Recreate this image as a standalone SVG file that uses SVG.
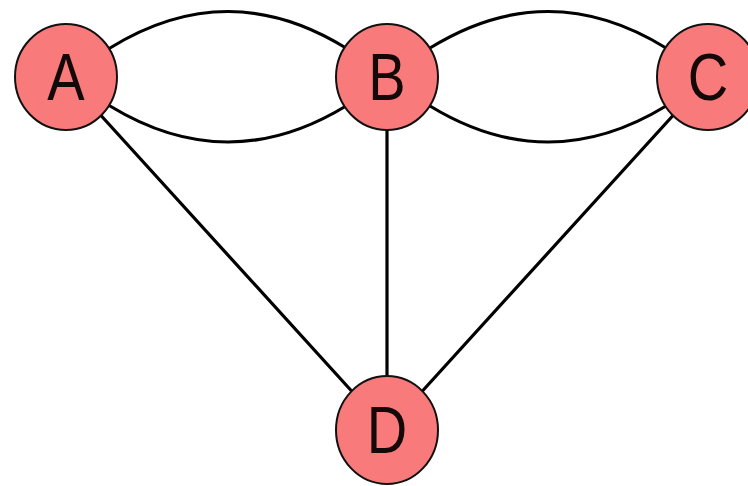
<svg xmlns="http://www.w3.org/2000/svg" width="748" height="486" viewBox="0 0 748 486">
<style>
.e{fill:none;stroke:#000;stroke-width:3.2;stroke-linecap:round}
.n{fill:#f87a7a;stroke:#111;stroke-width:2}
.t{font-family:"Liberation Sans",Arial,sans-serif;font-size:56px;fill:#150808;text-anchor:middle}
</style>
<rect width="748" height="486" fill="#fff"/>
<g id="edges">
<path class="e" d="M110,48 Q228,-25 346,48"/>
<path class="e" d="M110,106 Q228,178 346,106"/>
<path class="e" d="M430,48 Q548,-25 666,48"/>
<path class="e" d="M430,106 Q548,178 666,106"/>
<line class="e" x1="66" y1="77" x2="387" y2="430"/>
<line class="e" x1="387" y1="77" x2="387" y2="430"/>
<line class="e" x1="708" y1="77" x2="387" y2="430"/>
</g>
<g id="A"><ellipse class="n" cx="66" cy="77" rx="51" ry="53"/><text class="t" transform="translate(66,100) scale(1,1.2)">A</text></g>
<g id="B"><ellipse class="n" cx="387" cy="77" rx="51" ry="53"/><text class="t" transform="translate(387,100) scale(1,1.2)">B</text></g>
<g id="C"><ellipse class="n" cx="708" cy="77" rx="51" ry="53"/><text class="t" transform="translate(708,100) scale(1,1.2)">C</text></g>
<g id="D"><ellipse class="n" cx="387" cy="430" rx="51" ry="54"/><text class="t" transform="translate(387,453) scale(1,1.2)">D</text></g>
</svg>
